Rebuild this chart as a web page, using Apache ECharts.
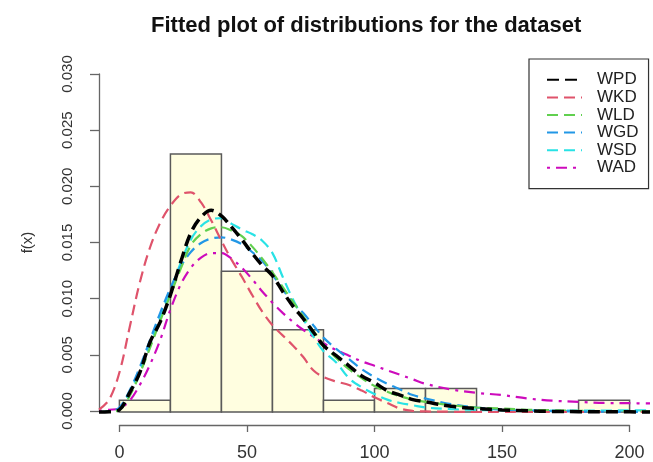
<!DOCTYPE html>
<html><head><meta charset="utf-8">
<script src="https://cdn.jsdelivr.net/npm/echarts@6/dist/echarts.min.js"></script>
<style>html,body{margin:0;padding:0;background:#fff}#c{width:653px;height:462px}</style>
</head><body><div id="c"></div>
<script>
// Histogram (density scale)
const binStarts = [0, 20, 40, 60, 80, 100, 120, 140, 160, 180];
const binWidth = 20;
const binDensity = [0.00104, 0.0229, 0.0125, 0.0073, 0.00104, 0.00208, 0.00208, 0, 0, 0.00104];

// Fitted density curves
const xs = [-8,-4,0,4,8,12,16,20,24,28,32,36,40,44,48,52,56,60,64,68,72,76,80,85,90,95,100,105,110,115,120,130,140,150,160,170,180,190,200,208];
const WPD = [0,0.00002,0.0002,0.0017,0.0035,0.0062,0.0080,0.0104,0.0133,0.0159,0.0173,0.0179,0.0174,0.0164,0.0153,0.0141,0.0130,0.0121,0.0107,0.0094,0.0083,0.0071,0.0059,0.0050,0.0041,0.0032,0.0026,0.0019,0.0015,0.0011,0.0009,0.0005,0.0003,0.00018,0.0001,0.00005,0.00003,0.00002,0.00001,0];
const WKD = [0.0002,0.0011,0.0035,0.0075,0.0115,0.0146,0.0168,0.0183,0.0193,0.0195,0.0186,0.0170,0.0152,0.0135,0.0120,0.0104,0.0089,0.0077,0.0068,0.0059,0.0049,0.0037,0.0031,0.0027,0.0024,0.0019,0.0013,0.0008,0.0003,0.0001,0.00005,0.00002,0,0,0,0,0,0,0,0];
const WLD = [0,0.00003,0.0002,0.0014,0.0034,0.0057,0.0081,0.0104,0.0127,0.0148,0.0158,0.0163,0.0164,0.0161,0.0156,0.0147,0.0136,0.0124,0.0111,0.0098,0.0085,0.0072,0.0060,0.0048,0.0038,0.0030,0.0023,0.0018,0.0014,0.0011,0.0009,0.0006,0.0004,0.0003,0.0002,0.00015,0.0001,0.00008,0.00006,0.00005];
const WGD = [0,0.00005,0.0004,0.0019,0.0040,0.0064,0.0088,0.0110,0.0129,0.0142,0.0150,0.0154,0.0155,0.0153,0.0149,0.0142,0.0134,0.0122,0.0109,0.0097,0.0088,0.0077,0.0066,0.0056,0.0047,0.0038,0.0031,0.0025,0.0020,0.0015,0.0012,0.0007,0.0004,0.0002,0.00012,0.00007,0.00004,0.00002,0.00001,0];
const WSD = [0,0.00005,0.0003,0.0017,0.0037,0.0060,0.0084,0.0108,0.0132,0.0153,0.0165,0.0171,0.0172,0.0167,0.0162,0.0158,0.0152,0.0141,0.0120,0.0100,0.0083,0.0067,0.0054,0.0044,0.0030,0.0022,0.0016,0.0011,0.0008,0.0006,0.0004,0.00025,0.00018,0.00015,0.00014,0.00013,0.00013,0.00013,0.00014,0.00015];
const WAD = [0.0001,0.0002,0.0003,0.0010,0.0024,0.0042,0.0064,0.0091,0.0113,0.0128,0.0137,0.0141,0.0141,0.0136,0.0128,0.0118,0.0107,0.0097,0.0088,0.0080,0.0073,0.0067,0.0061,0.0055,0.0050,0.0045,0.0041,0.0037,0.0033,0.0029,0.0025,0.0020,0.0017,0.0015,0.0012,0.0010,0.0009,0.0008,0.00078,0.00076];

const xTicks = {min: 0, max: 200, interval: 50};
const yTicks = {min: 0, max: 0.03, interval: 0.005};

const curves = [
  {name: 'WPD', data: WPD, color: '#000000', width: 3.5, dash: [12, 6]},
  {name: 'WKD', data: WKD, color: '#DF536B', width: 2.2, dash: [11, 6]},
  {name: 'WLD', data: WLD, color: '#61D04F', width: 2.2, dash: [11, 6]},
  {name: 'WGD', data: WGD, color: '#2297E6', width: 2.2, dash: [11, 6]},
  {name: 'WSD', data: WSD, color: '#28E2E5', width: 2.2, dash: [11, 6]},
  {name: 'WAD', data: WAD, color: '#CD0BBC', width: 2.2, dash: [3, 6, 11, 6]}
];

const chart = echarts.init(document.getElementById('c'), null, {renderer: 'canvas'});
const axisColor = '#666';
const series = [{
  type: 'custom', xAxisIndex: 0, yAxisIndex: 0, z: 1,
  data: binStarts.map((s, i) => [s, s + binWidth, binDensity[i]]),
  encode: {x: [0, 1], y: 2},
  renderItem: (params, api) => {
    const h = api.value(2);
    if (h <= 0) return null;
    const p0 = api.coord([api.value(0), 0]);
    const p1 = api.coord([api.value(1), h]);
    return {type: 'rect', shape: {x: p0[0], y: p1[1], width: p1[0] - p0[0], height: p0[1] - p1[1]},
      style: {fill: '#FFFEE0', stroke: '#5a5a5a', lineWidth: 1.5}};
  }
}];
curves.forEach((c, k) => {
  series.push({
    name: c.name, type: 'line', xAxisIndex: 0, yAxisIndex: 0, z: 10 - k,
    data: xs.map((x, i) => [x, c.data[i]]),
    smooth: 0.35, symbol: 'none', showSymbol: false,
    lineStyle: {color: c.color, width: c.width, type: c.dash},
    itemStyle: {color: c.color}
  });
});

chart.setOption({
  animation: false,
  backgroundColor: '#ffffff',
  title: {
    text: 'Fitted plot of distributions for the dataset',
    left: 146, top: 10,
    textStyle: {fontFamily: 'Liberation Sans', fontWeight: 'bold', fontSize: 22, color: '#111'}
  },
  legend: {
    orient: 'vertical', left: 529, top: 59,
    padding: [12, 10, 12, 17],
    borderColor: '#333', borderWidth: 1.2, borderRadius: 0,
    itemWidth: 35, itemHeight: 14, itemGap: 0,
    itemStyle: {opacity: 0},
    textStyle: {fontFamily: 'Liberation Sans', fontSize: 17, lineHeight: 17.6, color: '#222', padding: [0, 0, 0, 10]},
    data: curves.map(c => c.name)
  },
  grid: [
    {left: 99, right: 3, top: 60.5, bottom: 36.5},
    {left: 119.5, right: 23.5, top: 74, bottom: 50}
  ],
  xAxis: [
    {type: 'value', gridIndex: 0, min: -8, max: 208, show: false},
    {type: 'value', gridIndex: 1, min: xTicks.min, max: xTicks.max, interval: xTicks.interval, offset: 14,
      axisLine: {show: true, onZero: false, lineStyle: {color: axisColor, width: 1.3}},
      axisTick: {show: true, length: 7, lineStyle: {color: axisColor, width: 1.3}},
      axisLabel: {margin: 19, fontFamily: 'Liberation Sans', fontSize: 18, color: '#333'},
      splitLine: {show: false}}
  ],
  yAxis: [
    {type: 'value', gridIndex: 0, min: -0.0012, max: 0.0312, show: false},
    {type: 'value', gridIndex: 1, min: yTicks.min, max: yTicks.max, interval: yTicks.interval, offset: 20.5,
      name: 'f(x)', nameLocation: 'middle', nameRotate: 90, nameGap: 64,
      nameTextStyle: {fontFamily: 'Liberation Sans', fontSize: 15, color: '#333'},
      axisLine: {show: true, onZero: false, lineStyle: {color: axisColor, width: 1.3}},
      axisTick: {show: true, length: 9, lineStyle: {color: axisColor, width: 1.3}},
      axisLabel: {rotate: 90, margin: 24, fontFamily: 'Liberation Sans', fontSize: 15, color: '#333',
        formatter: v => v.toFixed(3)},
      splitLine: {show: false}}
  ],
  series: series
});
</script>
</body></html>
